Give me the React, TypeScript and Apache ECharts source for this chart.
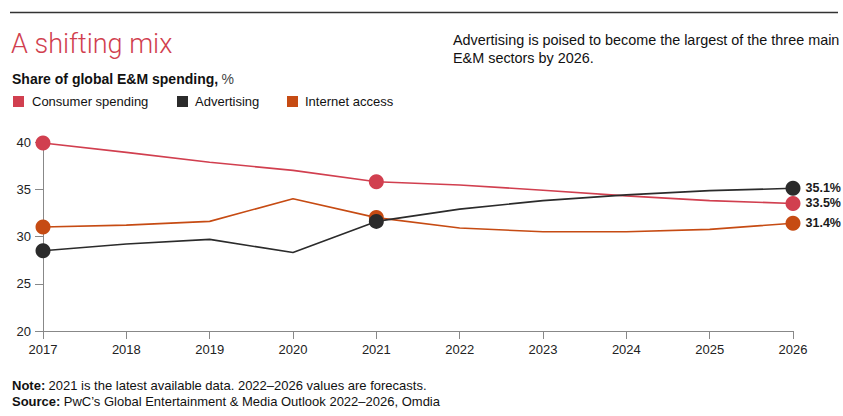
import React, { useEffect, useRef } from "react";
import * as echarts from "echarts";

const years = ["2017", "2018", "2019", "2020", "2021", "2022", "2023", "2024", "2025", "2026"];
const consumer = [39.9, 38.9, 37.85, 37.0, 35.8, 35.45, 34.9, 34.3, 33.8, 33.5];
const advertising = [28.5, 29.2, 29.7, 28.3, 31.6, 32.9, 33.8, 34.4, 34.85, 35.1];
const internet = [31.0, 31.2, 31.6, 34.0, 32.0, 30.9, 30.5, 30.5, 30.75, 31.4];
const markerIdx = [0, 4, 9];
const yTicks = { min: 20, max: 40, interval: 5 };

const RED = "#d13f4f";
const BLACK = "#2b2b2b";
const ORANGE = "#c64b13";
const FONT = "'Liberation Sans', Arial, sans-serif";

function mkData(vals: number[]) {
  return vals.map((v, i) => {
    const item: any = { value: v };
    if (markerIdx.includes(i)) {
      item.symbol = "circle";
      item.symbolSize = 15;
    }
    if (i === vals.length - 1) {
      item.label = {
        show: true,
        position: "right",
        distance: 5,
        formatter: (p: any) => p.value.toFixed(1) + "%",
        fontFamily: FONT,
        fontWeight: "bold",
        fontSize: 12.5,
        color: "#1a1a1a",
      };
    }
    return item;
  });
}

function series(name: string, vals: number[], color: string) {
  return {
    name,
    type: "line",
    data: mkData(vals),
    symbol: "none",
    showSymbol: true,
    lineStyle: { color, width: 1.6 },
    itemStyle: { color },
    labelLayout: { hideOverlap: false },
    emphasis: { disabled: true },
  };
}

export default function App() {
  const ref = useRef<HTMLDivElement>(null);
  useEffect(() => {
    document.body.style.margin = "0";
    const chart = echarts.init(ref.current!, undefined, { renderer: "svg" });
    const legendItems = [
      { name: "Consumer spending", color: RED, x: 13, tx: 32 },
      { name: "Advertising", color: BLACK, x: 177, tx: 195 },
      { name: "Internet access", color: ORANGE, x: 287, tx: 305 },
    ];
    const graphic: any[] = [
      { type: "line", shape: { x1: 10, y1: 12.5, x2: 838, y2: 12.5 }, style: { stroke: "#333", lineWidth: 1.5 } },
      {
        type: "text",
        x: 11,
        y: 44,
        style: { text: "A shifting mix", font: "300 27px Roboto, 'Liberation Sans', sans-serif", fill: RED, textVerticalAlign: "middle" },
      },
      {
        type: "text",
        x: 12,
        y: 79,
        style: {
          text: "{b|Share of global E&M spending,} {n|%}",
          textVerticalAlign: "middle",
          rich: {
            b: { fontFamily: FONT, fontWeight: "bold", fontSize: 14, fill: "#111" },
            n: { fontFamily: FONT, fontSize: 14, fill: "#444" },
          },
        },
      },
      {
        type: "text",
        x: 453,
        y: 31,
        style: {
          text: "Advertising is poised to become the largest of the three main\nE&M sectors by 2026.",
          font: `14.4px ${FONT}`,
          fill: "#111",
          lineHeight: 18,
        },
      },
      {
        type: "text",
        x: 12,
        y: 385,
        style: {
          text: "{b|Note:} {n|2021 is the latest available data. 2022–2026 values are forecasts.}",
          textVerticalAlign: "middle",
          rich: {
            b: { fontFamily: FONT, fontWeight: "bold", fontSize: 13, fill: "#111" },
            n: { fontFamily: FONT, fontSize: 13, fill: "#111" },
          },
        },
      },
      {
        type: "text",
        x: 12,
        y: 401,
        style: {
          text: "{b|Source:} {n|PwC’s Global Entertainment & Media Outlook 2022–2026, Omdia}",
          textVerticalAlign: "middle",
          rich: {
            b: { fontFamily: FONT, fontWeight: "bold", fontSize: 13, fill: "#111" },
            n: { fontFamily: FONT, fontSize: 13, fill: "#111" },
          },
        },
      },
    ];
    legendItems.forEach((l) => {
      graphic.push({ type: "rect", shape: { x: l.x, y: 96, width: 11, height: 11 }, style: { fill: l.color } });
      graphic.push({
        type: "text",
        x: l.tx,
        y: 101.5,
        style: { text: l.name, font: `13px ${FONT}`, fill: "#111", textVerticalAlign: "middle" },
      });
    });
    chart.setOption({
      animation: false,
      grid: { left: 43, right: 50, top: 142, bottom: 85, containLabel: false },
      xAxis: {
        type: "category",
        data: years,
        boundaryGap: false,
        axisLine: { lineStyle: { color: "#888", width: 1 } },
        axisTick: { show: true, length: 8, alignWithLabel: true, lineStyle: { color: "#888" } },
        axisLabel: { color: "#222", fontFamily: FONT, fontSize: 13, margin: 12 },
        splitLine: { show: false },
      },
      yAxis: {
        type: "value",
        min: yTicks.min,
        max: yTicks.max,
        interval: yTicks.interval,
        axisLine: { show: true, lineStyle: { color: "#888", width: 1 } },
        axisTick: { show: true, length: 8, lineStyle: { color: "#888" } },
        axisLabel: { color: "#222", fontFamily: FONT, fontSize: 13, margin: 12 },
        splitLine: { show: false },
      },
      series: [
        series("Consumer spending", consumer, RED),
        series("Internet access", internet, ORANGE),
        series("Advertising", advertising, BLACK),
      ],
      graphic,
    });
    return () => chart.dispose();
  }, []);
  return <div ref={ref} style={{ width: 843, height: 416 }} />;
}
